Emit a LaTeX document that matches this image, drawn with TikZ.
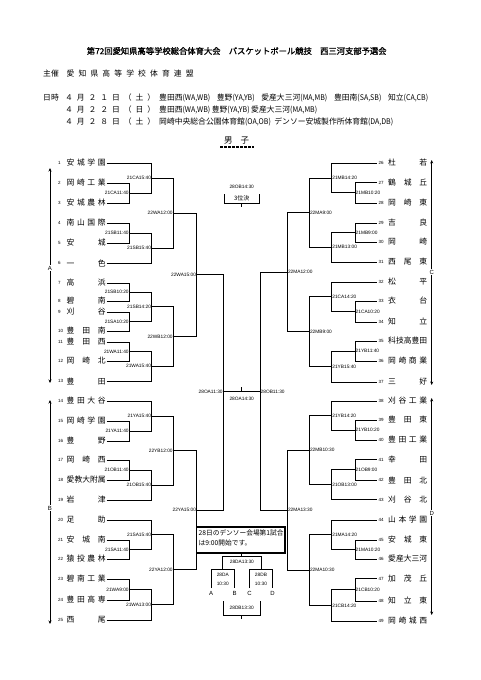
\documentclass[tikz,border=0pt]{standalone}
\usepackage{fontspec}
\usepackage{graphicx}
\setmainfont{Noto Sans CJK JP}
\newfontfamily\jpb[FakeBold=1.3]{Noto Sans CJK JP}
\newfontfamily\lat{Liberation Sans}
\usetikzlibrary{calc,arrows.meta}
\makeatletter
\def\spr#1{\spr@a#1\spr@end}
\def\spr@a#1#2\spr@end{#1\ifx\relax#2\relax\else\hfill\spr@a#2\spr@end\fi}
\makeatother
\newcommand\asc[1]{\scalebox{0.9}[1]{#1}}
\tikzset{
 br/.style={draw=black, line width=0.75pt},
 lbl/.style={font=\lat\fontsize{4.8}{5}\selectfont, inner sep=0.5pt},
 num/.style={font=\lat\fontsize{4.5}{5}\selectfont, inner sep=0pt},
 tname/.style={font=\fontsize{7.8}{8}\selectfont, inner sep=0pt},
 hd/.style={font=\fontsize{7.8}{8}\selectfont, inner sep=0pt},
 abcd/.style={font=\lat\fontsize{6}{6}\selectfont, fill=white, inner sep=0.8pt},
 small/.style={font=\lat\fontsize{4.8}{5}\selectfont, inner sep=0pt},
 arr/.style={line width=0.6pt, {Stealth[length=3.5pt,width=3pt]}-{Stealth[length=3.5pt,width=3pt]}},
}
\newcommand\teamL[3]{%
  \node[num, anchor=west] (nl#1) at (58,#2) {#1};
  \node[tname, anchor=west] (tl#1) at (66.5,#2) {\makebox[39pt][s]{\spr{#3}}};
  \coordinate (t#1) at (106.7,#2);}
\newcommand\teamR[3]{%
  \coordinate (t#1) at (376.7,#2);
  \node[num, anchor=west] (nr#1) at (378.3,#2) {#1};
  \node[tname, anchor=west] (tr#1) at (388,#2) {\makebox[39pt][s]{\spr{#3}}};}
\newcommand\mL[5]{%
  \coordinate (tmp) at ($(#2)!.5!(#3)$);
  \coordinate (#1) at (tmp -| #4);
  \draw[br] (#2) -| (#1);
  \draw[br] (#3) -| (#1);
  \node[lbl, anchor=east] (lb#1) at (#1) {#5};}
\newcommand\mR[5]{%
  \coordinate (tmp) at ($(#2)!.5!(#3)$);
  \coordinate (#1) at (tmp -| #4);
  \draw[br] (#2) -| (#1);
  \draw[br] (#3) -| (#1);
  \node[lbl, anchor=west] (lb#1) at (#1) {#5};}
\begin{document}
\begin{tikzpicture}[x=1pt,y=-1pt]
\useasboundingbox[fill=white] (0,0) rectangle (481,680);
% header
\node[font=\jpb\fontsize{8.3}{9}\selectfont, inner sep=0] (title) at (236.7,51) {第72回愛知県高等学校総合体育大会　バスケットボール競技　西三河支部予選会};
\node[hd, anchor=west] (shu) at (43,73.3) {主催};
\node[hd, anchor=west] (ren) at (66.5,73.3) {\makebox[127pt][s]{\spr{愛知県高等学校体育連盟}}};
\node[hd, anchor=west] (nichi) at (43,97.5) {日時};
\node[hd, anchor=west] (date1) at (65,97.5) {\makebox[90pt][s]{\spr{４月２１日（土）}}};
\node[hd, anchor=west] (ven1) at (159,97.5) {\makebox[269pt][s]{豊田西\asc{(WA,WB)}\hfill 豊野\asc{(YA,YB)}\hfill 愛産大三河\asc{(MA,MB)}\hfill 豊田南\asc{(SA,SB)}\hfill 知立\asc{(CA,CB)}}};
\node[hd, anchor=west] (date2) at (65,109.5) {\makebox[90pt][s]{\spr{４月２２日（日）}}};
\node[hd, anchor=west] (ven2) at (159,109.5) {\makebox[158pt][s]{豊田西\asc{(WA,WB)}\hfill 豊野\asc{(YA,YB)}\hfill 愛産大三河\asc{(MA,MB)}}};
\node[hd, anchor=west] (date3) at (65,121.5) {\makebox[90pt][s]{\spr{４月２８日（土）}}};
\node[hd, anchor=west] (ven3) at (159,121.5) {\makebox[234pt][s]{岡崎中央総合公園体育館\asc{(OA,OB)}\hfill デンソー安城製作所体育館\asc{(DA,DB)}}};
\node[font=\fontsize{8.5}{9}\selectfont, inner sep=0] (dan) at (236.7,141) {男\hspace{8pt}子};
\coordinate (u1) at (220,147); \coordinate (u2) at (254,147);
\draw[line width=1.6pt, dash pattern=on 3pt off 1pt] (u1) -- (u2);
% columns
\coordinate (L1) at (129.3,0); \coordinate (L2) at (151.7,0); \coordinate (L3) at (173.3,0); \coordinate (L4) at (196.7,0);
\coordinate (R1) at (355,0); \coordinate (R2) at (331.7,0); \coordinate (R3) at (309.3,0); \coordinate (R4) at (287.3,0);
% teams left
\teamL{1}{163}{安城学園}
\teamL{2}{183}{岡崎工業}
\teamL{3}{203}{安城農林}
\teamL{4}{223}{南山国際}
\teamL{5}{243}{安城}
\teamL{6}{263}{一色}
\teamL{7}{283}{高浜}
\teamL{8}{301}{碧南}
\teamL{9}{312}{刈谷}
\teamL{10}{331}{豊田南}
\teamL{11}{342}{豊田西}
\teamL{12}{361}{岡崎北}
\teamL{13}{381}{豊田}
\teamL{14}{401}{豊田大谷}
\teamL{15}{421}{岡崎学園}
\teamL{16}{441}{豊野}
\teamL{17}{460}{岡崎西}
\teamL{18}{480}{愛教大附属}
\teamL{19}{500}{岩津}
\teamL{20}{520}{足助}
\teamL{21}{540}{安城南}
\teamL{22}{559}{猿投農林}
\teamL{23}{579}{碧南工業}
\teamL{24}{600}{豊田高専}
\teamL{25}{620}{西尾}
% teams right
\teamR{26}{163}{杜若}
\teamR{27}{182.5}{鶴城丘}
\teamR{28}{203}{岡崎東}
\teamR{29}{223}{吉良}
\teamR{30}{242}{岡崎}
\teamR{31}{262}{西尾東}
\teamR{32}{282}{松平}
\teamR{33}{301}{衣台}
\teamR{34}{322}{知立}
\teamR{35}{341}{科技高豊田}
\teamR{36}{361}{岡崎商業}
\teamR{37}{382}{三好}
\teamR{38}{401}{刈谷工業}
\teamR{39}{420}{豊田東}
\teamR{40}{440}{豊田工業}
\teamR{41}{459.5}{幸田}
\teamR{42}{480}{豊田北}
\teamR{43}{499.5}{刈谷北}
\teamR{44}{520}{山本学園}
\teamR{45}{540}{安城東}
\teamR{46}{559}{愛産大三河}
\teamR{47}{578.5}{加茂丘}
\teamR{48}{601}{知立東}
\teamR{49}{621}{岡崎城西}
% left block A
\mL{a1}{t2}{t3}{L1}{21CA11:40}
\mL{a2}{t1}{a1}{L2}{21CA15:40}
\mL{a3}{t4}{t5}{L1}{21SB11:40}
\mL{a4}{a3}{t6}{L2}{21SB15:40}
\mL{a5}{a2}{a4}{L3}{22WA12:00}
\mL{a6}{t7}{t8}{L1}{21SB10:20}
\mL{a7}{t9}{t10}{L1}{21SA10:20}
\mL{a8}{a6}{a7}{L2}{21SB14:20}
\mL{a9}{t11}{t12}{L1}{21WA11:40}
\mL{a10}{a9}{t13}{L2}{21WA15:40}
\mL{a11}{a8}{a10}{L3}{22WB12:00}
\mL{a12}{a5}{a11}{L4}{22WA15:00}
% left block B
\mL{b1}{t15}{t16}{L1}{21YA11:40}
\mL{b2}{t14}{b1}{L2}{21YA15:40}
\mL{b3}{t17}{t18}{L1}{21OB11:40}
\mL{b4}{b3}{t19}{L2}{21OB15:40}
\mL{b5}{b2}{b4}{L3}{22YB12:00}
\mL{b6}{t21}{t22}{L1}{21SA11:40}
\mL{b7}{t20}{b6}{L2}{21SA15:40}
\mL{b8}{t23}{t24}{L1}{21WA9:00}
\mL{b9}{b8}{t25}{L2}{21WA13:00}
\mL{b10}{b7}{b9}{L3}{22YA12:00}
\mL{b11}{b5}{b10}{L4}{22YA15:00}
% right block C
\mR{c1}{t27}{t28}{R1}{21MB10:20}
\mR{c2}{t26}{c1}{R2}{21MB14:20}
\mR{c3}{t29}{t30}{R1}{21MB9:00}
\mR{c4}{c3}{t31}{R2}{21MB13:00}
\mR{c5}{c2}{c4}{R3}{22MA9:00}
\mR{c6}{t33}{t34}{R1}{21CA10:20}
\mR{c7}{t32}{c6}{R2}{21CA14:20}
\mR{c8}{t35}{t36}{R1}{21YB11:40}
\mR{c9}{c8}{t37}{R2}{21YB15:40}
\mR{c10}{c7}{c9}{R3}{22MB9:00}
\mR{c11}{c5}{c10}{R4}{22MA12:00}
% right block D
\mR{d1}{t39}{t40}{R1}{21YB10:20}
\mR{d2}{t38}{d1}{R2}{21YB14:20}
\mR{d3}{t41}{t42}{R1}{21OB9:00}
\mR{d4}{d3}{t43}{R2}{21OB13:00}
\mR{d5}{d2}{d4}{R3}{22MB10:30}
\mR{d6}{t45}{t46}{R1}{21MA10:20}
\mR{d7}{t44}{d6}{R2}{21MA14:20}
\mR{d8}{t47}{t48}{R1}{21CB10:20}
\mR{d9}{d8}{t49}{R2}{21CB14:20}
\mR{d10}{d7}{d9}{R3}{22MA10:30}
\mR{d11}{d5}{d10}{R4}{22MA13:30}
% final
\coordinate (FL) at (223.3,391.5); \coordinate (FR) at (260,391.5);
\coordinate (FT) at (241.7,391.5); \coordinate (FT2) at (241.7,386.5);
\draw[br] (a12) -| (FL); \draw[br] (b11) -| (FL);
\draw[br] (c11) -| (FR); \draw[br] (d11) -| (FR);
\draw[br] (FL) -- (FR);
\draw[br] (FT) -- (FT2);
\node[lbl, anchor=east] (lbFL) at (FL) {28OA11:30};
\node[lbl, anchor=west] (lbFR) at (FR) {28OB11:30};
\node[small] (lbF) at (241.7,398.5) {28OA14:30};
% third place
\coordinate (q1) at (224,194); \coordinate (q2) at (224,203.3); \coordinate (q3) at (259.3,203.3); \coordinate (q4) at (259.3,194);
\coordinate (q5) at (241.7,203.3); \coordinate (q6) at (241.7,207);
\draw[br] (q1) -- (q2) -- (q3) -- (q4);
\draw[br] (q5) -- (q6);
\node[small] (lbq) at (241.7,187) {28OB14:30};
\node[font=\fontsize{6}{6}\selectfont, inner sep=0] (sanni) at (241.7,198) {3位決};
% note box
\node[draw, line width=1.4pt, minimum width=88.3pt, minimum height=26pt, inner sep=0] (note) at (240.85,540) {};
\node[font=\fontsize{6.7}{10}\selectfont, inner sep=0, anchor=west] (nt1) at (198.5,533) {28日のデンソー会場第1試合};
\node[font=\fontsize{6.7}{10}\selectfont, inner sep=0, anchor=west] (nt2) at (198.5,543) {は9:00開始です。};
% DA/DB brackets
\coordinate (k1) at (241.7,553); \coordinate (k2) at (241.7,556);
\coordinate (k3) at (222.8,569); \coordinate (k4) at (222.8,556); \coordinate (k5) at (261,556); \coordinate (k6) at (261,569);
\draw[br] (k1) -- (k2);
\draw[br] (k3) -- (k4) -- (k5) -- (k6);
\node[small] (lbk) at (241.9,561.5) {28DA13:30};
\coordinate (sa1) at (211,588); \coordinate (sa2) at (211,569); \coordinate (sa3) at (234.5,569); \coordinate (sa4) at (234.5,588);
\draw[br] (sa1) -- (sa2) -- (sa3) -- (sa4);
\node[small] (lbda) at (222.8,575) {28DA};
\node[small] (lbdat) at (222.8,583.5) {10:30};
\coordinate (sb1) at (249.5,588); \coordinate (sb2) at (249.5,569); \coordinate (sb3) at (272.5,569); \coordinate (sb4) at (272.5,588);
\draw[br] (sb1) -- (sb2) -- (sb3) -- (sb4);
\node[small] (lbdb) at (261,575) {28DB};
\node[small] (lbdbt) at (261,583.5) {10:30};
\node[font=\lat\fontsize{6}{6}\selectfont, inner sep=0] (pA) at (211,593) {A};
\node[font=\lat\fontsize{6}{6}\selectfont, inner sep=0] (pB) at (234.5,593) {B};
\node[font=\lat\fontsize{6}{6}\selectfont, inner sep=0] (pC) at (249.5,593) {C};
\node[font=\lat\fontsize{6}{6}\selectfont, inner sep=0] (pD) at (272.5,593) {D};
\coordinate (w1) at (223.3,601); \coordinate (w2) at (223.3,615); \coordinate (w3) at (260,615); \coordinate (w4) at (260,601);
\coordinate (w5) at (241.7,615); \coordinate (w6) at (241.7,619);
\draw[br] (w1) -- (w2) -- (w3) -- (w4);
\draw[br] (w5) -- (w6);
\node[small] (lbw) at (241.7,607.5) {28DB13:30};
% block arrows
\coordinate (Atop) at (50,168); \coordinate (Abot) at (50,383);
\draw[arr] (Atop) -- (Abot); \node[abcd] (Alab) at (50,268) {A};
\coordinate (Btop) at (50,400); \coordinate (Bbot) at (50,624);
\draw[arr] (Btop) -- (Bbot); \node[abcd] (Blab) at (50,508) {B};
\coordinate (Ctop) at (431.7,160); \coordinate (Cbot) at (431.7,385);
\draw[arr] (Ctop) -- (Cbot); \node[abcd] (Clab) at (431.7,272) {C};
\coordinate (Dtop) at (431.7,398); \coordinate (Dbot) at (431.7,615);
\draw[arr] (Dtop) -- (Dbot); \node[abcd] (Dlab) at (431.7,513) {D};
\end{tikzpicture}
\end{document}
